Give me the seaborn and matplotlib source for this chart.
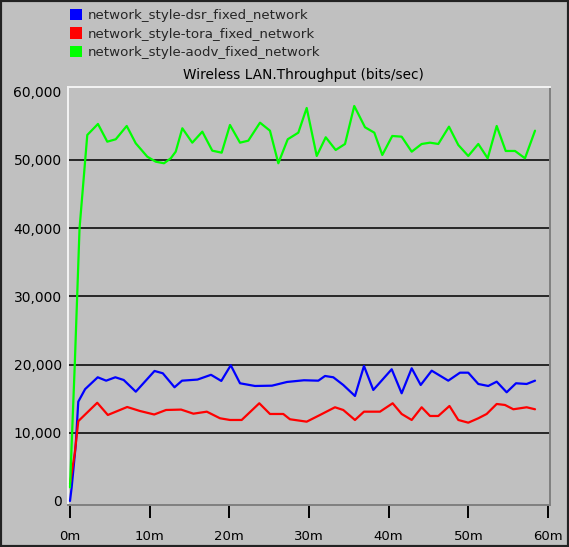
import matplotlib
matplotlib.use("Agg")
import matplotlib.pyplot as plt
import seaborn as sns
import pandas as pd
from matplotlib.patches import Patch, Rectangle
from matplotlib.ticker import FuncFormatter

# Wireless LAN throughput (bits/sec) over simulated time (minutes)
dsr_time = [0.0, 0.21, 0.72, 1.04, 1.9, 3.48, 4.54, 5.69, 6.74, 8.26, 10.61, 11.65,
            13.12, 14.06, 16.0, 17.7, 18.99, 20.18, 21.34, 23.22, 25.35, 27.24,
            29.37, 31.17, 32.01, 33.05, 34.3, 35.77, 36.9, 38.07, 40.38, 41.63,
            42.89, 44.02, 45.4, 47.48, 48.95, 49.99, 51.25, 52.5, 53.56, 54.81,
            55.98, 57.32, 58.37]
dsr_tput = [0, 2000, 8200, 14560, 16400, 18137, 17640, 18137, 17742, 16026, 19062,
            18724, 16672, 17640, 17800, 18500, 17600, 19900, 17258, 16862, 16906,
            17450, 17700, 17640, 18328, 18137, 17009, 15396, 19795, 16276, 19311,
            15791, 19457, 17009, 19106, 17640, 18812, 18812, 17155, 16862, 17493,
            15938, 17258, 17155, 17640]

tora_time = [0.0, 0.6, 1.04, 3.42, 4.75, 7.18, 8.76, 10.57, 12.06, 13.95, 15.49,
             17.17, 18.83, 20.08, 21.55, 23.76, 25.1, 26.77, 27.61, 29.71, 31.38,
             33.26, 34.3, 35.77, 36.9, 38.91, 40.5, 41.63, 42.89, 44.14, 45.19,
             46.23, 47.63, 48.74, 49.99, 51.25, 52.3, 53.56, 54.6, 55.65, 57.32,
             58.37]
tora_tput = [2500, 7000, 11700, 14400, 12610, 13780, 13200, 12680, 13343, 13400,
             12800, 13094, 12126, 11877, 11877, 14326, 12757, 12757, 11980, 11628,
             12610, 13739, 13343, 11877, 13094, 13094, 14326, 12757, 11877, 13739,
             12463, 12463, 13930, 11877, 11481, 12126, 12757, 14223, 14076, 13446,
             13739, 13446]

aodv_time = [0.0, 0.6, 1.2, 2.17, 3.51, 4.68, 5.74, 7.12, 8.25, 9.7, 10.76, 11.8,
             12.65, 13.27, 14.1, 15.35, 16.61, 17.86, 19.04, 20.08, 21.34, 22.38,
             23.85, 25.1, 26.15, 27.33, 28.66, 29.71, 30.97, 32.1, 33.35, 34.52,
             35.68, 37.03, 38.2, 39.2, 40.45, 41.63, 42.89, 44.14, 45.19, 46.23,
             47.57, 48.74, 49.99, 51.25, 52.43, 53.56, 54.69, 55.86, 57.11, 58.37]
aodv_tput = [2000, 20000, 40000, 53666, 55279, 52683, 53035, 54985, 52449, 50484,
             49751, 49516, 50249, 51217, 54648, 52537, 54150, 51364, 51070, 55132,
             52537, 52830, 55469, 54296, 49516, 53035, 54003, 57625, 50587, 53328,
             51466, 52346, 57918, 54795, 54003, 50733, 53519, 53416, 51217, 52346,
             52537, 52346, 54883, 52199, 50587, 52346, 50249, 54985, 51320, 51320,
             50249, 54296]

series_names = ["network_style-dsr_fixed_network",
                "network_style-tora_fixed_network",
                "network_style-aodv_fixed_network"]
series_colors = ["#0000ff", "#ff0000", "#00ff00"]
x_ticks = [0, 10, 20, 30, 40, 50, 60]
y_ticks = [0, 10000, 20000, 30000, 40000, 50000, 60000]

frames = []
for name, t, v in zip(series_names,
                      [dsr_time, tora_time, aodv_time],
                      [dsr_tput, tora_tput, aodv_tput]):
    frames.append(pd.DataFrame({"time": t, "throughput": v, "series": name}))
data = pd.concat(frames, ignore_index=True)

sns.set_theme(style="ticks")
plt.rcParams["font.family"] = ["DejaVu Sans"]

BG = "#c0c0c0"
W, H = 569, 547
fig = plt.figure(figsize=(W / 100, H / 100), dpi=100, facecolor=BG)
ax = fig.add_axes([68 / W, 1 - 505 / H, (550 - 68) / W, (505 - 87) / H])
ax.set_facecolor(BG)

# horizontal reference lines behind the data
for yv in y_ticks[1:-1]:
    ax.axhline(yv, color="#1a1a1a", lw=1.3, zorder=1)

sns.lineplot(data=data, x="time", y="throughput", hue="series",
             hue_order=series_names, palette=series_colors,
             estimator=None, sort=False, lw=1.6, ax=ax, legend=False, zorder=3)

ax.set_xlim(-0.25, 60.25)
ax.set_ylim(-590, 60700)
ax.set_xticks(x_ticks)
ax.set_xticklabels([f"{t}m" for t in x_ticks])
ax.set_yticks(y_ticks)
ax.yaxis.set_major_formatter(FuncFormatter(lambda v, p: f"{int(v):,}"))
ax.set_xlabel("")
ax.set_ylabel("")
ax.tick_params(axis="x", bottom=True, direction="out", length=9, width=1.4,
               color="black", pad=9, labelsize=9.5, labelcolor="black")
ax.tick_params(axis="y", left=True, length=0, pad=4.5, labelsize=10,
               labelcolor="black")

# raised-panel frame
for side, col in [("left", "#f4f4f4"), ("top", "#f4f4f4"),
                  ("right", "#808080"), ("bottom", "#808080")]:
    ax.spines[side].set_visible(True)
    ax.spines[side].set_color(col)
    ax.spines[side].set_linewidth(1.4)

fig.text(303 / W, 1 - 75 / H, "Wireless LAN.Throughput (bits/sec)",
         ha="center", va="center", fontsize=9.8, color="black")

handles = [Patch(facecolor=c, edgecolor="none") for c in series_colors]
fig.legend(handles, series_names, loc="upper left",
           bbox_to_anchor=(70 / W, 1 - 9 / H), frameon=False, fontsize=9.6,
           handlelength=0.9, handleheight=0.9, handletextpad=0.45,
           labelspacing=0.4, borderpad=0, borderaxespad=0)

fig.patches.append(Rectangle((0, 0), 1, 1, transform=fig.transFigure,
                             fill=False, edgecolor="#222222", lw=3))

fig.savefig("out.png", dpi=100, facecolor=BG)
